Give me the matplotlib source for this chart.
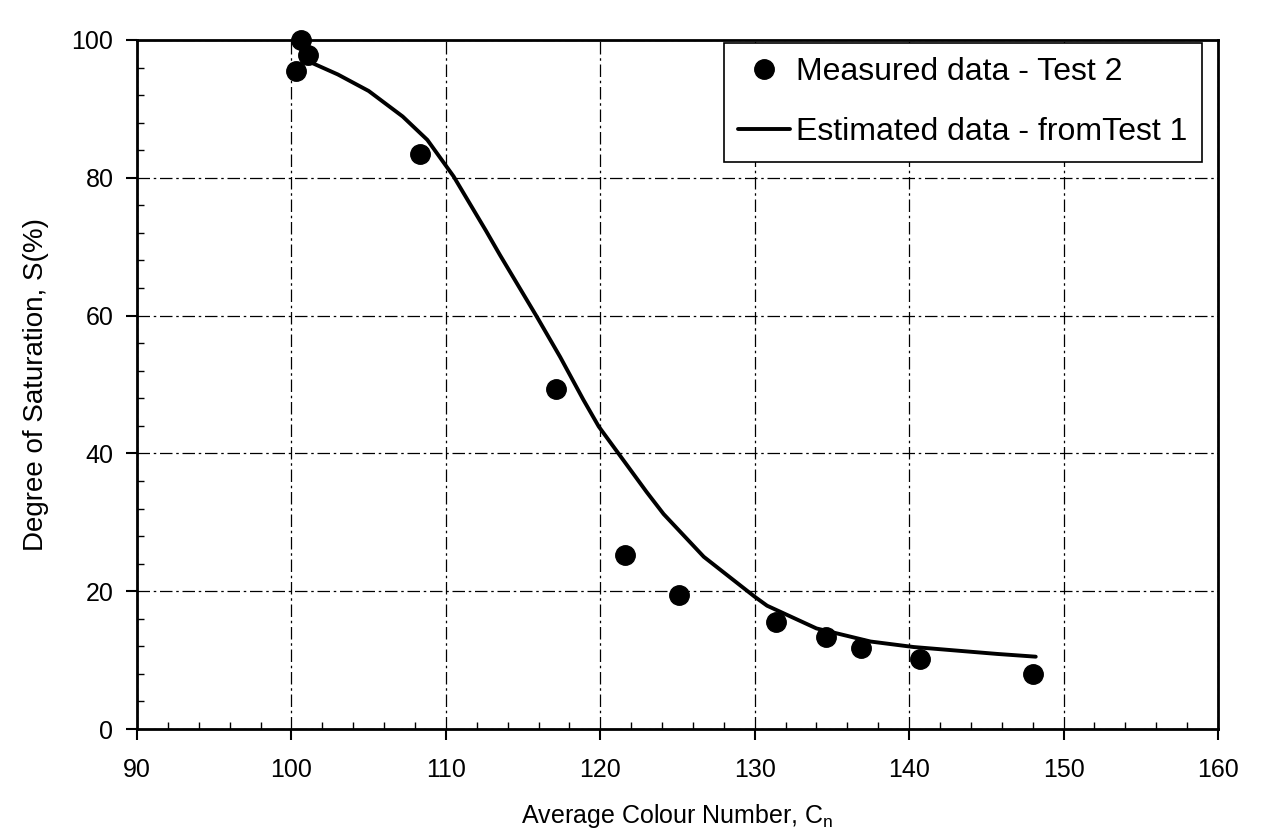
import numpy as np
import matplotlib.pyplot as plt
from matplotlib.ticker import MultipleLocator

plt.rcParams['font.family'] = ['Liberation Sans', 'DejaVu Sans']

# measured points (test 2)
meas_cn = [100.6, 101.1, 100.3, 108.3, 117.1, 121.6, 125.1, 131.4, 134.6, 136.9, 140.7, 148.0]
meas_s = [100.0, 97.8, 95.5, 83.5, 49.4, 25.3, 19.4, 15.6, 13.4, 11.7, 10.1, 8.0]

# estimated curve (from test 1)
est_cn = [101.1, 103.0, 105.0, 107.2, 108.8, 110.5, 112.6, 113.5, 115.9, 117.4, 118.9, 119.9,
          121.5, 123.0, 124.1, 126.7, 130.0, 130.8, 134.0, 137.5, 140.3, 145.7, 148.2]
est_s = [96.9, 95.0, 92.6, 88.9, 85.5, 80.2, 72.3, 68.8, 59.8, 54.0, 47.8, 43.9,
         39.0, 34.4, 31.2, 25.0, 19.2, 17.9, 14.6, 12.7, 11.9, 10.9, 10.5]

fig = plt.figure(figsize=(12.62, 8.4), dpi=100)
ax = fig.add_axes([0.1086, 0.1321, 0.8565, 0.8203])

ax.plot(est_cn, est_s, color='black', lw=2.8, solid_capstyle='round', solid_joinstyle='round',
        label='Estimated data - fromTest 1', zorder=3)
ax.plot(meas_cn, meas_s, 'o', color='black', ms=14, clip_on=False,
        label='Measured data - Test 2', zorder=4)

ax.set_xlim(90, 160)
ax.set_ylim(0, 100)
ax.xaxis.set_major_locator(MultipleLocator(10))
ax.xaxis.set_minor_locator(MultipleLocator(2))
ax.yaxis.set_major_locator(MultipleLocator(20))
ax.yaxis.set_minor_locator(MultipleLocator(4))
ax.tick_params(which='major', direction='out', length=8, width=1.5, labelsize=18)
ax.tick_params(axis='x', which='major', pad=13)
ax.tick_params(axis='y', which='major', pad=9)
ax.tick_params(which='minor', direction='in', length=5, width=1)

for sp in ax.spines.values():
    sp.set_linewidth(2)
    sp.set_color('black')

ax.grid(which='major', color='black', lw=0.9, linestyle=(0, (10, 3, 2, 3)))

ax.set_xlabel('Average Colour Number, C$_\\mathregular{n}$', fontsize=18, labelpad=14)
ax.set_ylabel('Degree of Saturation, S(%)', fontsize=20, labelpad=16)

handles, labels = ax.get_legend_handles_labels()
leg = ax.legend(handles[::-1], labels[::-1], loc='upper right', bbox_to_anchor=(0.985, 0.996),
                borderaxespad=0, fontsize=23, fancybox=False, edgecolor='black',
                framealpha=1, handlelength=1.6, handletextpad=0.2, labelspacing=0.95,
                borderpad=0.45)
leg.get_frame().set_linewidth(1.2)

fig.savefig('out.png', dpi=100, facecolor='white')
